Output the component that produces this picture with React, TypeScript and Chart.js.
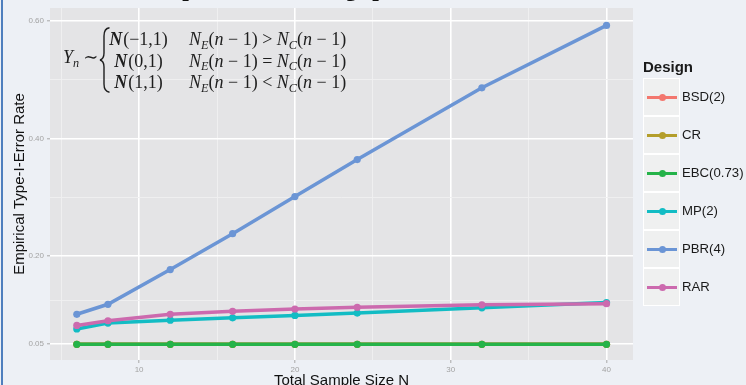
import React, { useEffect, useRef } from "react";
import { Chart, registerables } from "chart.js";

Chart.register(...registerables);

// ---- data ----
const sampleSizes = [6, 8, 12, 16, 20, 24, 32, 40];
const designs = ["BSD(2)", "CR", "EBC(0.73)", "MP(2)", "PBR(4)", "RAR"];
const bsdRates = [0.05, 0.05, 0.05, 0.05, 0.05, 0.05, 0.05, 0.05];
const crRates = [0.05, 0.05, 0.05, 0.05, 0.05, 0.05, 0.05, 0.05];
const ebcRates = [0.05, 0.05, 0.05, 0.05, 0.05, 0.05, 0.05, 0.05];
const mpRates = [0.076, 0.086, 0.091, 0.095, 0.099, 0.103, 0.112, 0.121];
const pbrRates = [0.101, 0.118, 0.177, 0.238, 0.301, 0.364, 0.486, 0.592];
const rarRates = [0.082, 0.09, 0.101, 0.106, 0.11, 0.113, 0.117, 0.119];
const designColors = ["#f3776e", "#b49e2a", "#25b349", "#12bcc4", "#6b95d5", "#cc6aae"];
const yMajorTicks = [0.05, 0.2, 0.4, 0.6];
const yMinorTicks = [0.125, 0.3, 0.5];
const xMajorTicks = [10, 20, 30, 40];
const xMinorTicks = [5, 15, 25, 35];
const titleText = "Empirical Type-I Error Rate";
const xTitle = "Total Sample Size N";
const yTitle = "Empirical Type-I-Error Rate";
const legendTitle = "Design";

const seriesValues = [bsdRates, crRates, ebcRates, mpRates, pbrRates, rarRates];

const isIn = (arr: number[], v: number) => arr.some((a) => Math.abs(a - v) < 1e-9);

const panelBg = {
  id: "panelBg",
  beforeDraw(chart: any) {
    const { ctx, chartArea } = chart;
    const { left, top, right, bottom } = chartArea;
    ctx.save();
    ctx.fillStyle = "#e4e4e6";
    ctx.fillRect(left, top, right - left, bottom - top);
    ctx.restore();
  },
};

const serif = "'Liberation Serif', 'DejaVu Serif', serif";

function Sub({ children }: { children: any }) {
  return (
    <span style={{ fontSize: "0.68em", position: "relative", top: "0.32em", fontStyle: "italic" }}>{children}</span>
  );
}
function CalN() {
  return <span style={{ fontStyle: "italic", fontWeight: 700, marginRight: 1 }}>N</span>;
}
function Cond({ op }: { op: string }) {
  return (
    <span>
      <i>N</i>
      <Sub>E</Sub>(<i>n</i> − 1) {op} <i>N</i>
      <Sub>C</Sub>(<i>n</i> − 1)
    </span>
  );
}

export default function App() {
  const canvasRef = useRef<HTMLCanvasElement | null>(null);

  useEffect(() => {
    const canvas = canvasRef.current;
    if (!canvas) return;
    const order = [6, 5, 4, 3, 2, 1];
    const chart = new Chart(canvas, {
      type: "line",
      data: {
        datasets: designs.map((name, i) => ({
          label: name,
          data: sampleSizes.map((x, j) => ({ x, y: seriesValues[i][j] })),
          borderColor: designColors[i],
          backgroundColor: designColors[i],
          borderWidth: 3.5,
          pointRadius: 3.6,
          pointBorderWidth: 0,
          pointHoverRadius: 3.6,
          tension: 0,
          order: order[i],
        })),
      },
      options: {
        animation: false,
        responsive: false,
        maintainAspectRatio: false,
        events: [],
        layout: { padding: { left: 0, top: 8, right: 113, bottom: 0 } },
        plugins: {
          legend: { display: false },
          tooltip: { enabled: false },
          title: { display: false },
        },
        scales: {
          x: {
            type: "linear",
            min: 4.28,
            max: 41.7,
            afterBuildTicks: (s: any) => {
              s.ticks = [...xMinorTicks, ...xMajorTicks].sort((a, b) => a - b).map((v) => ({ value: v }));
            },
            afterFit: (s: any) => {
              s.height = 25;
            },
            ticks: {
              autoSkip: false,
              maxRotation: 0,
              padding: 2,
              color: "#a3a3a3",
              font: { size: 8, family: "'Liberation Sans', Arial, sans-serif" },
              callback: (v: any) => (isIn(xMajorTicks, Number(v)) ? String(v) : ""),
            },
            grid: {
              color: (c: any) => (c.tick && isIn(xMajorTicks, c.tick.value) ? "#ffffff" : "#efeff0"),
              lineWidth: (c: any) => (c.tick && isIn(xMajorTicks, c.tick.value) ? 1.6 : 0.9),
              tickLength: 3,
              tickColor: (c: any) => (c.tick && isIn(xMajorTicks, c.tick.value) ? "#a8a8a8" : "rgba(0,0,0,0)"),
              tickWidth: 1,
            },
            border: { display: false },
            title: {
              display: true,
              text: xTitle,
              color: "#111111",
              font: { size: 15, family: "'Liberation Sans', Arial, sans-serif" },
              padding: { top: 0, bottom: -5 },
            },
          },
          y: {
            type: "linear",
            min: 0.0233,
            max: 0.6216,
            afterBuildTicks: (s: any) => {
              s.ticks = [...yMajorTicks, ...yMinorTicks].sort((a, b) => a - b).map((v) => ({ value: v }));
            },
            afterFit: (s: any) => {
              s.width = 50;
            },
            ticks: {
              autoSkip: false,
              padding: 3,
              color: "#a3a3a3",
              font: { size: 8, family: "'Liberation Sans', Arial, sans-serif" },
              callback: (v: any) => (isIn(yMajorTicks, Number(v)) ? Number(v).toFixed(2) : ""),
            },
            grid: {
              color: (c: any) => (c.tick && isIn(yMajorTicks, c.tick.value) ? "#ffffff" : "#efeff0"),
              lineWidth: (c: any) => (c.tick && isIn(yMajorTicks, c.tick.value) ? 1.6 : 0.9),
              tickLength: 3,
              tickColor: (c: any) => (c.tick && isIn(yMajorTicks, c.tick.value) ? "#a8a8a8" : "rgba(0,0,0,0)"),
              tickWidth: 1,
            },
            border: { display: false },
            title: {
              display: true,
              text: yTitle,
              color: "#111111",
              font: { size: 15, family: "'Liberation Sans', Arial, sans-serif" },
              padding: { top: 11, bottom: 0 },
            },
          },
        },
      },
      plugins: [panelBg],
    } as any);
    return () => chart.destroy();
  }, []);

  const keyTop = 78;
  const keyH = 38;

  return (
    <div
      style={{
        position: "fixed",
        left: 0,
        top: 0,
        width: 746,
        height: 385,
        overflow: "hidden",
        background: "#edf0f5",
        fontFamily: "'Liberation Sans', Arial, sans-serif",
      }}
    >
      <canvas ref={canvasRef} width={746} height={385} style={{ position: "absolute", left: 0, top: 0, display: "block" }} />

      {/* left frame line */}
      <div style={{ position: "absolute", left: 1, top: 0, width: 1.5, height: 385, background: "#4f7fbd" }} />

      {/* clipped title */}
      <div
        style={{
          position: "absolute",
          left: 111,
          top: -45,
          fontSize: 44,
          lineHeight: "44px",
          fontWeight: 700,
          color: "#111",
          whiteSpace: "nowrap",
        }}
      >
        {titleText}
      </div>

      {/* formula annotation */}
      <div style={{ position: "absolute", left: 0, top: 0, fontFamily: serif, fontSize: 18, color: "#1e1e1e" }}>
        <div style={{ position: "absolute", left: 63, top: 46, whiteSpace: "nowrap", lineHeight: "22px" }}>
          <i>Y</i>
          <Sub>n</Sub>
          <span style={{ marginLeft: 4 }}>∼</span>
        </div>
        <svg style={{ position: "absolute", left: 99, top: 27 }} width={12} height={66} viewBox="0 0 12 66">
          <path
            d="M10.5 0.8 Q5 1.5 5 9 L5 26 Q5 32 1 33 Q5 34 5 40 L5 57 Q5 64.5 10.5 65.2"
            fill="none"
            stroke="#1e1e1e"
            strokeWidth={1.4}
          />
        </svg>
        {["(−1,1)", "(0,1)", "(1,1)"].map((t, i) => (
          <div
            key={"c1" + i}
            style={{
              position: "absolute",
              left: 105,
              width: 67,
              textAlign: "center",
              top: 28 + i * 21.5,
              lineHeight: "22px",
              whiteSpace: "nowrap",
            }}
          >
            <CalN />
            {t}
          </div>
        ))}
        {[">", "=", "<"].map((op, i) => (
          <div
            key={"c2" + i}
            style={{ position: "absolute", left: 189, top: 28 + i * 21.5, lineHeight: "22px", whiteSpace: "nowrap" }}
          >
            <Cond op={op} />
          </div>
        ))}
      </div>

      {/* legend */}
      <div style={{ position: "absolute", left: 643, top: 58, fontSize: 15, fontWeight: 700, color: "#1a1a1a" }}>
        {legendTitle}
      </div>
      {designs.map((name, i) => (
        <React.Fragment key={name}>
          <div
            style={{
              position: "absolute",
              left: 643,
              top: keyTop + i * keyH,
              width: 37,
              height: keyH,
              boxSizing: "border-box",
              background: "#eff0f0",
              border: "1px solid #ffffff",
            }}
          >
            <div style={{ position: "absolute", left: 3, top: 17, width: 30, height: 3, background: designColors[i] }} />
            <div
              style={{
                position: "absolute",
                left: 14.5,
                top: 15,
                width: 7,
                height: 7,
                borderRadius: "50%",
                background: designColors[i],
              }}
            />
          </div>
          <div
            style={{
              position: "absolute",
              left: 682,
              top: keyTop + i * keyH + 10,
              fontSize: 13.2,
              lineHeight: "18px",
              color: "#1a1a1a",
              whiteSpace: "nowrap",
            }}
          >
            {name}
          </div>
        </React.Fragment>
      ))}
    </div>
  );
}
